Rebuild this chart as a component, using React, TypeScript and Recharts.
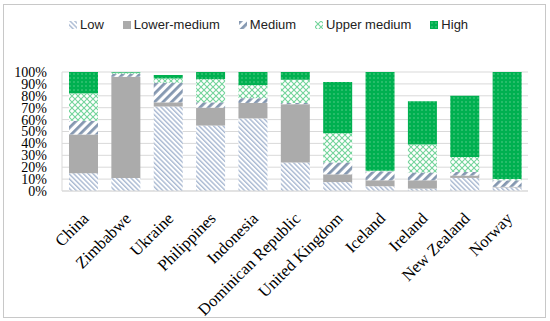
import React from 'react';
import { BarChart, Bar, XAxis, YAxis, CartesianGrid, Legend } from 'recharts';

const categories = ['China', 'Zimbabwe', 'Ukraine', 'Philippines', 'Indonesia', 'Dominican Republic', 'United Kingdom', 'Iceland', 'Ireland', 'New Zealand', 'Norway'];
const low = [15, 11, 71, 55, 61, 24, 7.5, 4, 2, 11, 3];
const lowerMedium = [32.5, 85, 3.5, 15, 13, 49, 6.5, 5, 7, 2, 0.5];
const medium = [11.5, 2.5, 16.5, 4.5, 4, 1, 10, 7.5, 6.5, 3, 5.5];
const upperMedium = [23, 1, 3.5, 19.5, 11, 19.5, 24.5, 0.5, 23.5, 12.5, 1];
const high = [18, 0.5, 3, 6, 11, 6.5, 43, 83, 36.5, 51.5, 90];
const yTicks = [0, 10, 20, 30, 40, 50, 60, 70, 80, 90, 100];

const seriesNames = ['Low', 'Lower-medium', 'Medium', 'Upper medium', 'High'];
const seriesKeys = ['low', 'lowerMedium', 'medium', 'upperMedium', 'high'];
const seriesFills = ['url(#patLow)', '#ABABAB', 'url(#patMed)', 'url(#patUpper)', 'url(#patHigh)'];

const data = categories.map((c, i) => ({
  name: c,
  low: low[i],
  lowerMedium: lowerMedium[i],
  medium: medium[i],
  upperMedium: upperMedium[i],
  high: high[i],
}));

const serif = '"Liberation Serif", "DejaVu Serif", serif';
const sans = '"Liberation Sans", Arial, sans-serif';

const XTick = (props: any) => {
  const { x, y, payload } = props;
  return (
    <g transform={`translate(${x + 3},${y + 17})`}>
      <text x={0} y={0} dy="0.3em" textAnchor="end" transform="rotate(-45)" fill="#000" fontFamily={serif} fontSize={16.5}>
        {payload.value}
      </text>
    </g>
  );
};

const LegendContent = () => (
  <div style={{ display: 'flex', alignItems: 'center', paddingLeft: 69, fontFamily: sans, fontSize: 13, color: '#222' }}>
    {seriesNames.map((n, i) => (
      <div key={n} style={{ display: 'flex', alignItems: 'center', marginRight: 19 }}>
        <svg width={8} height={8} style={{ marginRight: 3 }}>
          <rect x={0} y={0} width={8} height={8} fill={seriesFills[i]} />
        </svg>
        <span>{n}</span>
      </div>
    ))}
  </div>
);

export default function App() {
  return (
    <div style={{ position: 'absolute', left: 0, top: 0, width: 550, height: 321, background: '#fff' }}>
      <div style={{ position: 'absolute', left: 3, top: 4, width: 541, height: 312, border: '1px solid #C8C8C8' }} />
      <div style={{ position: 'absolute', left: 0, top: 0 }}>
        <BarChart width={550} height={321} data={data} margin={{ top: 57, right: 22, left: 0, bottom: 0 }} barSize={29}>
          <defs>
            <pattern id="patLow" patternUnits="userSpaceOnUse" width={3.4} height={3.4} patternTransform="rotate(-45)">
              <rect x={0} y={0} width={3.4} height={3.4} fill="#FFFFFF" />
              <rect x={0} y={0} width={1.4} height={3.4} fill="#A9B9D2" />
            </pattern>
            <pattern id="patMed" patternUnits="userSpaceOnUse" width={6} height={6} patternTransform="rotate(45)">
              <rect x={0} y={0} width={6} height={6} fill="#FFFFFF" />
              <rect x={0} y={0} width={2.8} height={6} fill="#8497B0" />
            </pattern>
            <pattern id="patUpper" patternUnits="userSpaceOnUse" width={6} height={6}>
              <rect x={0} y={0} width={6} height={6} fill="#FFFFFF" />
              <path d="M0,0 L6,6 M6,0 L0,6" stroke="#72D49A" strokeWidth={1.1} />
            </pattern>
            <pattern id="patHigh" patternUnits="userSpaceOnUse" width={4} height={4}>
              <rect x={0} y={0} width={4} height={4} fill="#00B050" />
              <rect x={1.5} y={1.5} width={1} height={1} fill="#9AE3B8" />
            </pattern>
          </defs>
          <CartesianGrid vertical={false} stroke="#D9D9D9" />
          <XAxis dataKey="name" interval={0} height={130} tick={<XTick />} tickLine={false} axisLine={{ stroke: '#D9D9D9' }} />
          <YAxis
            width={62}
            domain={[0, 100]}
            ticks={yTicks}
            interval={0}
            tickFormatter={(v: number) => `${v}%`}
            tickSize={0}
            tickMargin={15}
            tickLine={false}
            axisLine={{ stroke: '#D9D9D9' }}
            tick={{ fill: '#000', fontFamily: serif, fontSize: 14 }}
          />
          <Legend verticalAlign="top" content={<LegendContent />} wrapperStyle={{ top: 17, left: 0, width: 550 }} />
          {seriesKeys.map((k, i) => (
            <Bar key={k} dataKey={k} name={seriesNames[i]} stackId="a" fill={seriesFills[i]} isAnimationActive={false} />
          ))}
        </BarChart>
      </div>
    </div>
  );
}
